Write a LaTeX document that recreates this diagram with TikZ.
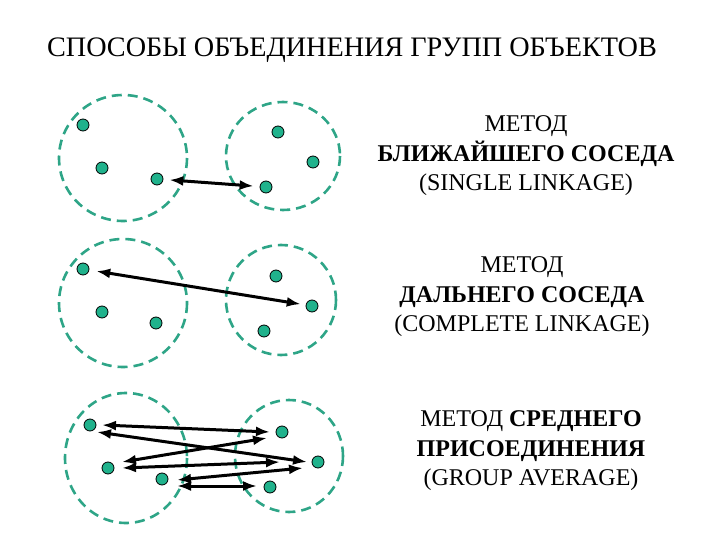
\documentclass[tikz,border=0pt]{standalone}
\usepackage{fontspec}
\setmainfont{Liberation Serif}
\usetikzlibrary{arrows.meta,calc}
\definecolor{ringc}{RGB}{46,165,135}
\definecolor{dotc}{RGB}{32,178,140}
\tikzset{
  ring/.style={draw=ringc,line width=2.6pt,dash pattern=on 10pt off 6pt},
  pt/.style={circle,draw=black,line width=0.8pt,fill=dotc,minimum size=12pt,inner sep=0pt},
  link/.style={line width=3pt,{Latex[length=14pt,width=10pt]}-{Latex[length=14pt,width=10pt]}},
  lbl/.style={align=center,font=\fontsize{24}{29.5}\selectfont},
}
\begin{document}
\begin{tikzpicture}[x=1pt,y=-1pt]
\useasboundingbox (0,0) rectangle (720,540);
\node[font=\fontsize{28.2}{32}\selectfont] (title) at (352,50) {СПОСОБЫ ОБЪЕДИНЕНИЯ ГРУПП ОБЪЕКТОВ};

% ---- single linkage
\draw[ring] (123,158) ellipse [x radius=64,y radius=63];
\draw[ring] (283,156) ellipse [x radius=57,y radius=54];
\node[pt] (a1) at (83,125) {};
\node[pt] (a2) at (102,168) {};
\node[pt] (a3) at (157,179) {};
\node[pt] (b1) at (278,132) {};
\node[pt] (b2) at (313,162) {};
\node[pt] (b3) at (266,187) {};
\draw[link,shorten <=6pt,shorten >=6pt] (a3) -- (b3);
\node[lbl] (t1) at (526,156) {МЕТОД\\\textbf{БЛИЖАЙШЕГО СОСЕДА}\\(SINGLE LINKAGE)};

% ---- complete linkage
\draw[ring] (123,303) ellipse [x radius=64,y radius=64];
\draw[ring] (281,300) ellipse [x radius=55,y radius=55];
\node[pt] (c1) at (83,269) {};
\node[pt] (c2) at (102,312) {};
\node[pt] (c3) at (156,323) {};
\node[pt] (d1) at (276,276) {};
\node[pt] (d2) at (312,306) {};
\node[pt] (d3) at (264,331) {};
\draw[link,shorten <=7pt,shorten >=5pt] (c1) -- (d2);
\node[lbl] (t2) at (522,297) {МЕТОД\\\textbf{ДАЛЬНЕГО СОСЕДА}\\(COMPLETE LINKAGE)};

% ---- group average
\draw[ring] (126,458) ellipse [x radius=61,y radius=65];
\draw[ring] (289,456) ellipse [x radius=54,y radius=56];
\node[pt] (e1) at (90,425) {};
\node[pt] (e2) at (108,468) {};
\node[pt] (e3) at (162,479) {};
\node[pt] (f1) at (282,432) {};
\node[pt] (f2) at (318,462) {};
\node[pt] (f3) at (270,487) {};
\draw[link] ($(e1)+(12,0)$) -- ($(f1)+(-12,0)$);
\draw[link] ($(e1)+(7,7)$) -- ($(f2)+(-11,0)$);
\draw[link] ($(e2)+(14,-6)$) -- ($(f1)+(-15,6)$);
\draw[link] ($(e2)+(14,0)$) -- ($(f2)+(-38,0)$);
\draw[link] ($(e3)+(15,1)$) -- ($(f2)+(-15,6)$);
\draw[link] ($(e3)+(15,7)$) -- ($(f3)+(-13,-1)$);
\node[lbl] (t3) at (531,451) {МЕТОД \textbf{СРЕДНЕГО}\\\textbf{ПРИСОЕДИНЕНИЯ}\\(GROUP AVERAGE)};
\end{tikzpicture}
\end{document}
